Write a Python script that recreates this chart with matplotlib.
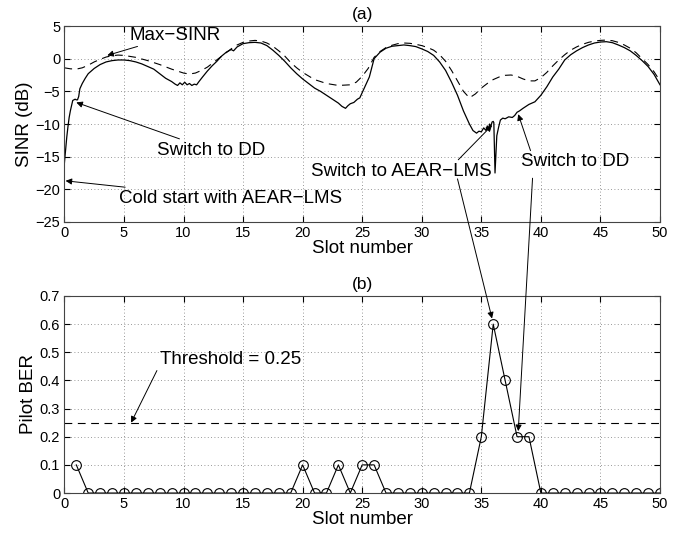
import numpy as np
import matplotlib.pyplot as plt
from matplotlib.patches import ConnectionPatch

plt.rcParams['font.family'] = ['Liberation Sans', 'DejaVu Sans']

# (a) SINR traces
max_sinr_x = [0, 0.5, 1, 1.5, 2, 2.5, 3, 3.5, 4, 4.5, 5, 6, 7, 8, 9, 10, 10.5, 11, 11.5,
              12, 12.5, 13, 13.5, 14, 14.5, 15, 15.5, 16, 16.5, 17, 17.5, 18, 18.5, 19, 19.5,
              20, 21, 22, 23, 24, 24.5, 25, 25.5, 26, 26.5, 27, 27.5, 28, 28.5, 29, 29.5,
              30, 30.5, 31, 31.5, 32, 32.5, 33, 33.5, 34, 34.5, 35, 35.5, 36, 36.5, 37, 37.5,
              38, 38.5, 39, 39.5, 40, 40.5, 41, 41.5, 42, 42.5, 43, 43.5, 44, 44.5, 45, 45.5,
              46, 46.5, 47, 47.5, 48, 48.5, 49, 49.5, 50]
max_sinr_db = [-1.4, -1.55, -1.6, -1.4, -1.0, -0.5, -0.1, 0.25, 0.45, 0.55, 0.5, 0.2, -0.3,
               -0.9, -1.6, -2.2, -2.35, -2.2, -1.8, -1.3, -0.6, 0.1, 0.8, 1.5, 2.1, 2.5, 2.7,
               2.8, 2.7, 2.4, 1.9, 1.2, 0.4, -0.6, -1.4, -2.1, -3.2, -3.8, -4.1, -4.0, -3.6,
               -2.7, -1.5, 0.2, 1.1, 1.7, 2.05, 2.3, 2.4, 2.35, 2.2, 2.0, 1.7, 1.3, 0.6, -0.4,
               -1.8, -3.4, -5.0, -6.0, -5.4, -4.5, -3.8, -3.2, -2.8, -2.55, -2.5, -2.7, -3.1,
               -3.4, -3.4, -2.9, -2.1, -1.1, -0.2, 0.6, 1.3, 1.8, 2.2, 2.5, 2.7, 2.8, 2.85,
               2.75, 2.5, 2.1, 1.6, 0.9, 0.0, -0.9, -2.0, -3.4]

adapt_x = [0, 0.1, 0.2, 0.3, 0.4, 0.5, 0.6, 0.7, 0.8, 0.9, 1.0, 1.1, 1.2, 1.3, 1.5, 1.75,
           2.0, 2.5, 3.0, 3.5, 4.0, 4.5, 5.0, 5.5, 6.0, 6.5, 7.0, 7.5, 8.0, 8.5, 9.0, 9.3,
           9.5, 9.7, 9.9, 10.1, 10.3, 10.5, 10.7, 10.9, 11.1, 11.3, 11.6, 12.0, 12.4, 12.8,
           13.2, 13.6, 14.0, 14.2, 14.5, 15.0, 15.5, 16.0, 16.5, 17.0, 17.5, 18.0, 18.5,
           19.0, 19.5, 20.0, 20.5, 21.0, 21.5, 22.0, 22.5, 23.0, 23.3, 23.6, 23.8, 24.0,
           24.3, 24.6, 24.8, 25.0, 25.3, 25.6, 26.0, 26.5, 27.0, 27.5, 28.0, 28.5, 29.0,
           29.5, 30.0, 30.5, 31.0, 31.5, 32.0, 32.5, 33.0, 33.5, 34.0, 34.3, 34.6, 34.8,
           35.0, 35.2, 35.4, 35.5, 35.6, 35.7, 35.8, 35.9, 36.0, 36.05, 36.15, 36.3, 36.45,
           36.6, 36.8, 37.0, 37.3, 37.6, 37.8, 38.0, 38.2, 38.5, 39.0, 39.5, 40.0, 40.5,
           41.0, 41.5, 42.0, 42.5, 43.0, 43.5, 44.0, 44.5, 45.0, 45.5, 46.0, 46.5, 47.0,
           47.5, 48.0, 48.5, 49.0, 49.5, 50.0]
adapt_db = [-16.0, -14.0, -12.0, -10.4, -9.0, -8.0, -7.2, -6.4, -6.3, -6.2, -6.3, -6.3,
            -5.8, -4.6, -3.8, -3.0, -2.3, -1.5, -0.9, -0.5, -0.3, -0.2, -0.2, -0.3, -0.5,
            -0.8, -1.2, -1.6, -2.3, -3.0, -3.5, -3.9, -4.1, -3.7, -4.0, -3.6, -4.0, -3.8,
            -4.1, -3.9, -4.0, -3.5, -2.8, -1.9, -1.1, -0.4, 0.4, 1.0, 1.4, 1.2, 1.8, 2.3,
            2.45, 2.5, 2.4, 2.0, 1.3, 0.5, -0.4, -1.4, -2.3, -3.1, -3.8, -4.5, -5.0, -5.6,
            -6.2, -6.8, -7.3, -7.6, -7.2, -6.9, -6.7, -6.2, -6.0, -5.2, -4.0, -2.8, 0.0,
            1.0, 1.6, 1.9, 2.0, 2.1, 2.0, 1.85, 1.5, 1.1, 0.5, -0.5, -1.8, -3.6, -5.6, -8.0,
            -10.0, -11.0, -11.4, -11.1, -11.2, -10.6, -11.0, -10.3, -10.8, -10.0, -10.4,
            -9.7, -9.6, -9.8, -17.5, -11.8, -10.5, -9.4, -9.1, -9.2, -8.9, -9.0, -8.7,
            -8.2, -8.0, -7.6, -7.0, -6.6, -5.6, -4.3, -2.8, -1.6, -0.2, 0.6, 1.2, 1.7, 2.1,
            2.4, 2.55, 2.6, 2.45, 2.1, 1.7, 1.2, 0.5, -0.3, -1.2, -2.4, -4.0]

# (b) pilot BER per slot
slots = list(range(1, 51))
pilot_ber = [0.1] + [0.0] * 18 + [0.1, 0.0, 0.0, 0.1, 0.0, 0.1, 0.1] + [0.0] * 8 + \
            [0.2, 0.6, 0.4, 0.2, 0.2] + [0.0] * 11
threshold = 0.25

fig = plt.figure(figsize=(6.85, 5.33), dpi=100)
ax1 = fig.add_axes([0.094, 0.5835, 0.8695, 0.3677])
ax2 = fig.add_axes([0.094, 0.075, 0.8695, 0.3697])

arrow = dict(arrowstyle='-|>', color='k', lw=0.7, mutation_scale=9, shrinkA=0, shrinkB=0)
txt = 13.5

for ax in (ax1, ax2):
    ax.set_xlim(0, 50)
    ax.set_xticks(np.arange(0, 51, 5))
    ax.grid(True, color='#777777', linestyle=(0, (1, 3)), lw=0.6)
    ax.tick_params(direction='in', top=True, right=True, labelsize=10.5, length=4, pad=3)
    for s in ax.spines.values():
        s.set_linewidth(0.8)
        s.set_color('#444444')

ax1.plot(max_sinr_x, max_sinr_db, color='k', lw=0.8, dashes=(7, 5))
ax1.plot(adapt_x, adapt_db, color='k', lw=0.9)
ax1.set_ylim(-25, 5)
ax1.set_yticks(np.arange(-25, 6, 5))
ax1.set_ylabel('SINR (dB)', fontsize=txt, labelpad=2)
ax1.set_xlabel('Slot number', fontsize=txt, labelpad=0)
ax1.set_title('(a)', fontsize=12.5, pad=5)

ax1.annotate('Max\u2212SINR', xy=(3.6, 0.5), xytext=(5.5, 3.6), fontsize=txt,
             va='center', arrowprops=arrow)
ax1.annotate('Switch to DD', xy=(1.0, -6.7), xytext=(7.8, -14.0), fontsize=txt,
             va='center', arrowprops=arrow)
ax1.annotate('Cold start with AEAR\u2212LMS', xy=(0.1, -18.7), xytext=(4.6, -21.4),
             fontsize=txt, va='center', arrowprops=arrow)
ax1.annotate('Switch to AEAR\u2212LMS', xy=(35.9, -10.2), xytext=(20.7, -17.2),
             fontsize=txt, va='center', arrowprops=dict(arrow, relpos=(0.8, 1.0)))
ax1.annotate('Switch to DD', xy=(38.1, -8.5), xytext=(38.3, -15.8), fontsize=txt,
             va='center', arrowprops=dict(arrow, relpos=(0.1, 1.0)))

ax2.plot(slots, pilot_ber, color='k', lw=0.8, marker='o', markersize=7,
         markerfacecolor='none', markeredgewidth=0.8)
ax2.plot([0, 50], [threshold, threshold], color='k', lw=0.8, dashes=(7, 5))
ax2.set_ylim(0, 0.7)
ax2.set_yticks(np.arange(0, 0.71, 0.1))
ax2.set_yticklabels(['0'] + ['%.1f' % v for v in np.arange(0.1, 0.71, 0.1)])
ax2.set_ylabel('Pilot BER', fontsize=txt, labelpad=2)
ax2.set_xlabel('Slot number', fontsize=txt, labelpad=0)
ax2.set_title('(b)', fontsize=12.5, pad=5)
ax2.annotate('Threshold = 0.25', xy=(5.6, 0.25), xytext=(8.0, 0.473), fontsize=txt,
             va='center', arrowprops=dict(arrow, relpos=(0.0, 0.2)))

# long arrows from panel (a) labels into panel (b)
for start, end in [((33.0, -18.4), (35.9, 0.62)), ((39.3, -18.3), (38.1, 0.22))]:
    con = ConnectionPatch(xyA=start, coordsA=ax1.transData, xyB=end, coordsB=ax2.transData,
                          arrowstyle='-|>', color='k', lw=0.7, mutation_scale=9,
                          shrinkA=0, shrinkB=0)
    fig.add_artist(con)

fig.savefig('out.png', dpi=100)
